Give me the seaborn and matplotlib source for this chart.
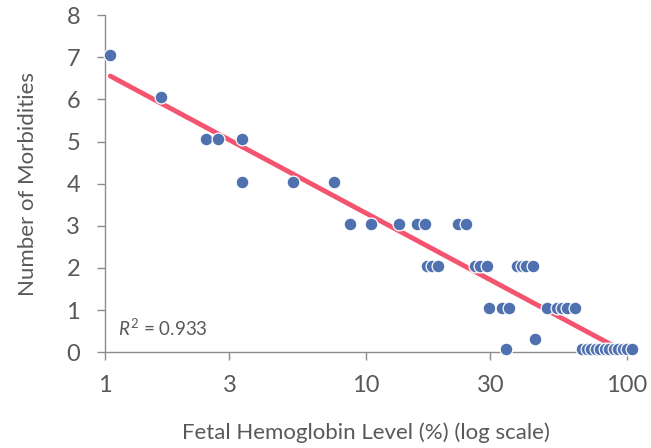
import matplotlib
matplotlib.use("Agg")
import matplotlib.pyplot as plt
import seaborn as sns
import numpy as np
import pandas as pd

# Fetal hemoglobin level (%) and number of morbidities
hbf_level = [
    1.05, 1.64,
    2.44, 2.71, 3.35,
    3.35, 5.25, 7.54,
    8.68, 10.5, 13.4, 15.7, 16.8, 22.5, 24.2,
    17.1, 17.9, 18.9, 26.2, 27.3, 29.1, 37.9, 39.6, 41.0, 43.6,
    29.6, 33.2, 35.3, 49.3, 53.9, 56.4, 58.9, 63.2,
    34.4, 44.4,
    67.2, 70.3, 72.8, 76.0, 78.8, 82.4, 85.3, 89.2, 92.4, 96.5, 100.0, 104.5,
]
morbidities = [
    7.05, 6.05,
    5.05, 5.05, 5.05,
    4.05, 4.05, 4.05,
    3.05, 3.05, 3.05, 3.05, 3.05, 3.05, 3.05,
    2.05, 2.05, 2.05, 2.05, 2.05, 2.05, 2.05, 2.05, 2.05, 2.05,
    1.05, 1.05, 1.05, 1.05, 1.05, 1.05, 1.05, 1.05,
    0.08, 0.3,
    0.08, 0.08, 0.08, 0.08, 0.08, 0.08, 0.08, 0.08, 0.08, 0.08, 0.08, 0.08,
]
x_ticks = [1, 3, 10, 30, 100]
y_ticks = [0, 1, 2, 3, 4, 5, 6, 7, 8]
r_squared = 0.933

df = pd.DataFrame({"hbf": hbf_level, "morb": morbidities}).sort_values("hbf")

sns.set_theme(style="white")
plt.rcParams["font.family"] = ["Lato", "DejaVu Sans"]
plt.rcParams.update({
    "mathtext.fontset": "custom",
    "mathtext.rm": "Lato",
    "mathtext.it": "Lato:italic",
})

fig = plt.figure(figsize=(6.51, 4.48), dpi=100)
ax = fig.add_axes([0.161, 0.214, 0.802, 0.752])

# log trendline, Excel-style
slope, intercept = np.polyfit(np.log10(df["hbf"]), df["morb"], 1)
line_x = np.logspace(np.log10(df["hbf"].min()), np.log10(df["hbf"].max()), 100)
ax.plot(line_x, intercept + slope * np.log10(line_x), color="#F4546F", linewidth=3.5, zorder=2)

sns.scatterplot(x="hbf", y="morb", data=df, color="#4F71AF", s=85,
                edgecolor="white", linewidth=0.9, ax=ax, zorder=3, clip_on=False)

ax.set_xscale("log")
ax.set_xlim(1, 100)
ax.set_ylim(0, 8)
ax.set_xticks(x_ticks)
ax.set_xticklabels([str(t) for t in x_ticks])
ax.xaxis.set_minor_locator(matplotlib.ticker.NullLocator())
ax.set_yticks(y_ticks)

gray = "#595959"
for side in ["top", "right"]:
    ax.spines[side].set_visible(False)
for side in ["left", "bottom"]:
    ax.spines[side].set_color("#8C8C8C")
    ax.spines[side].set_linewidth(1.0)
ax.tick_params(axis="both", direction="out", length=5.8, width=1, color="#8C8C8C",
               labelsize=17, labelcolor=gray, bottom=True, left=True)
ax.tick_params(axis="x", pad=11)
ax.tick_params(axis="y", pad=12)

ax.set_xlabel("Fetal Hemoglobin Level (%) (log scale)", fontsize=16, color=gray, labelpad=19)
ax.set_ylabel("Number of Morbidities", fontsize=16, color=gray, labelpad=20)

ax.text(0.026, 0.07, f"$R^2$ = {r_squared}", transform=ax.transAxes,
        fontsize=13.5, color=gray, ha="left", va="center")

plt.savefig("out.png", dpi=100)
plt.close()
